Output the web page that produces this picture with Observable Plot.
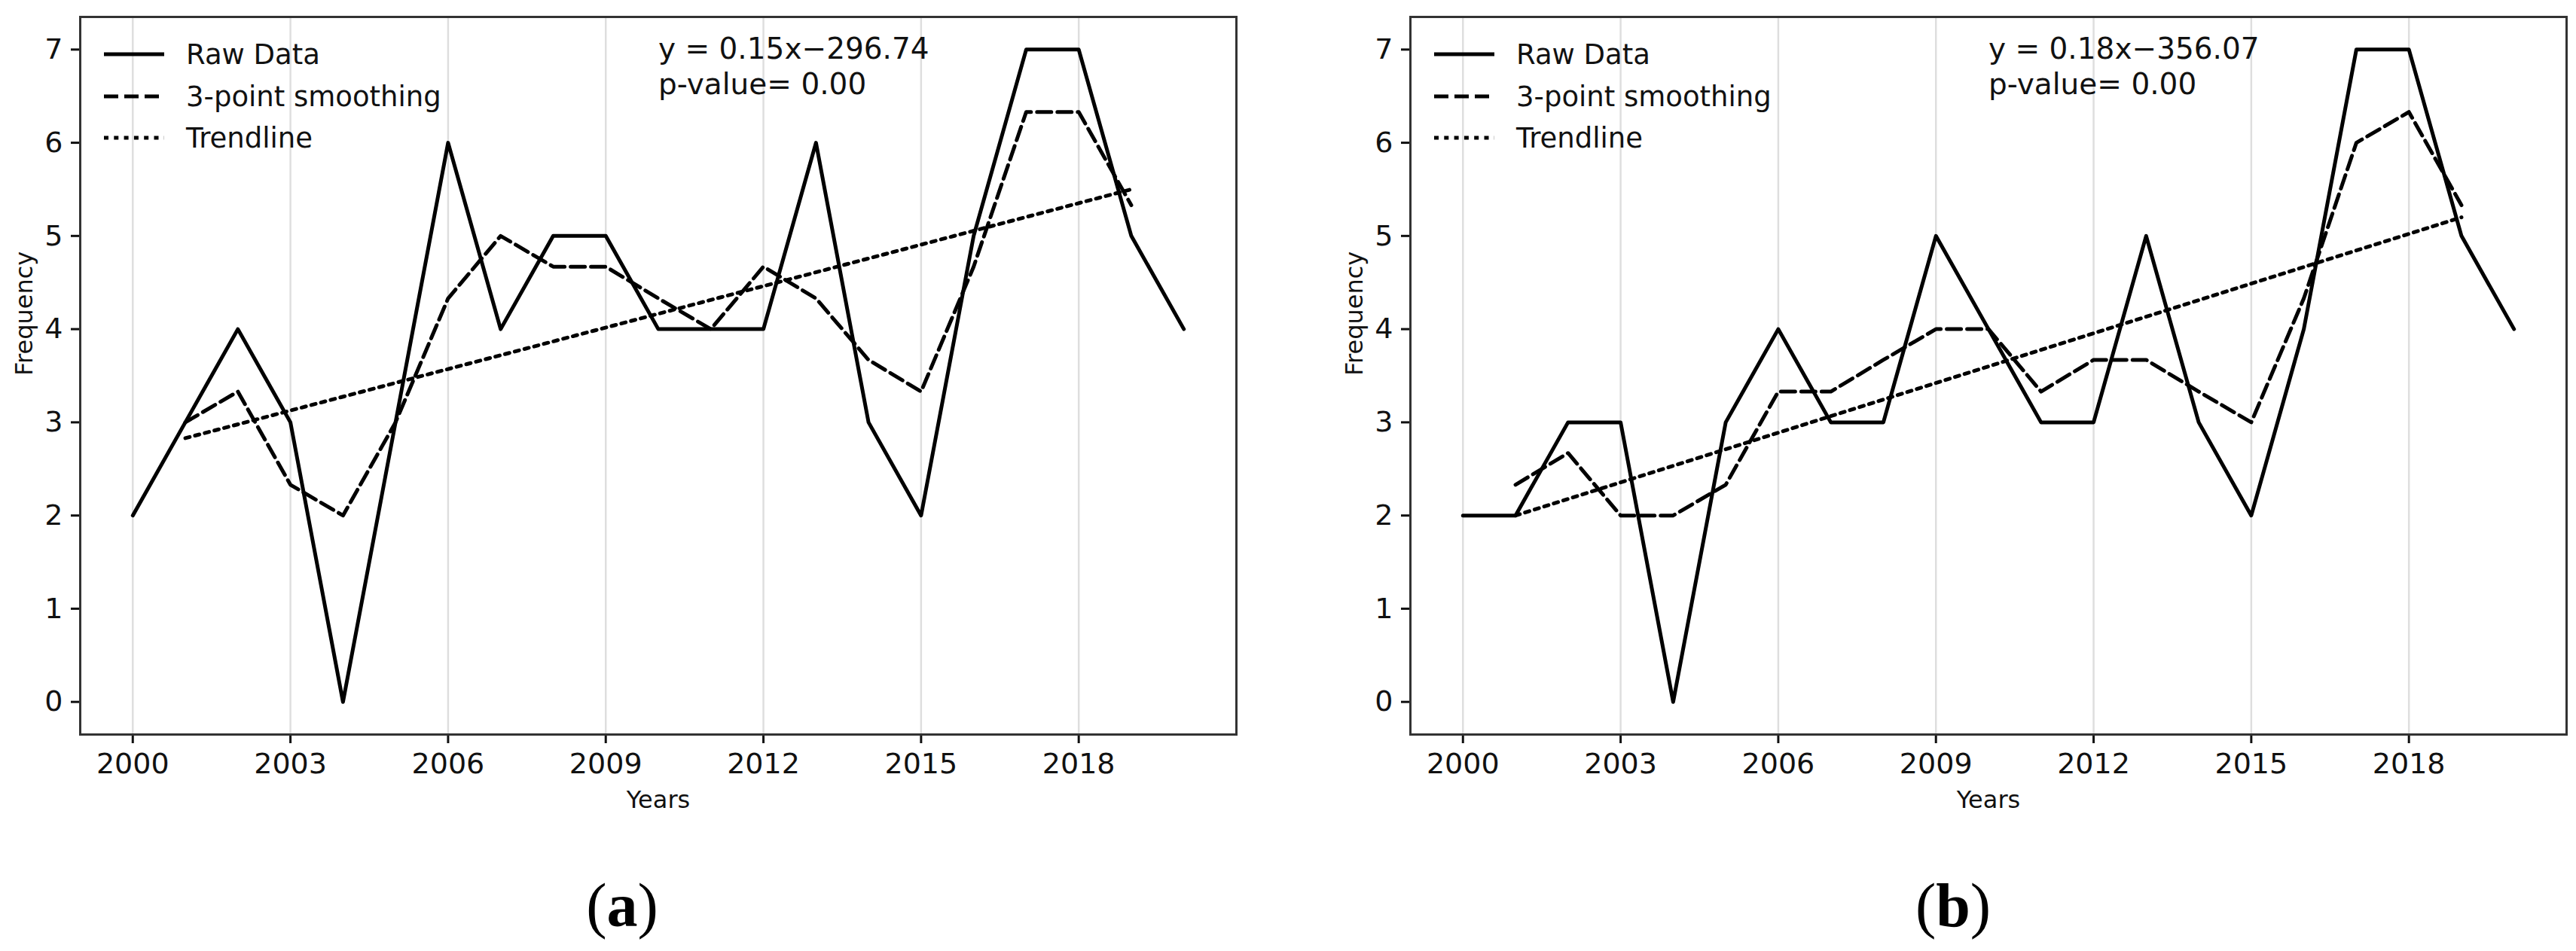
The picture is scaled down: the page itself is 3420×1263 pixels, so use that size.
<!DOCTYPE html>
<html>
<head>
<meta charset="utf-8">
<script src="https://cdn.jsdelivr.net/npm/d3@7"></script>
<script src="https://cdn.jsdelivr.net/npm/@observablehq/plot@0.6"></script>
<style>
  html, body { margin: 0; padding: 0; background: #fff; }
  #fig { position: relative; width: 3420px; height: 1263px; overflow: hidden; background: #fff; }
  .panel { position: absolute; top: 0; }
  .legend { position: absolute; font-family: "DejaVu Sans", sans-serif; font-size: 37px; color: #111; }
  .legend .row { position: absolute; left: 0; height: 56px; display: flex; align-items: center; white-space: nowrap; }
  .legend svg { display: block; margin-right: 29px; }
  .caption { position: absolute; font-family: "Liberation Serif", "Times New Roman", serif; font-size: 82px; color: #000; transform: translate(-50%, -50%); line-height: 1; }
</style>
</head>
<body>
<div id="fig"></div>
<script>
// ---------- data ----------
const years = [2000, 2001, 2002, 2003, 2004, 2005, 2006, 2007, 2008, 2009, 2010,
               2011, 2012, 2013, 2014, 2015, 2016, 2017, 2018, 2019, 2020];
const smoothYears = [2001, 2002, 2003, 2004, 2005, 2006, 2007, 2008, 2009, 2010,
                     2011, 2012, 2013, 2014, 2015, 2016, 2017, 2018, 2019];
const trendYears = [2001, 2019];

const rawA = [2, 3, 4, 3, 0, 3, 6, 4, 5, 5, 4, 4, 4, 6, 3, 2, 5, 7, 7, 5, 4];
const smoothA = [3, 3.33, 2.33, 2, 3, 4.33, 5, 4.67, 4.67, 4.33, 4, 4.67, 4.33, 3.67, 3.33, 4.67, 6.33, 6.33, 5.33];
const trendA = [2.83, 5.5];

const rawB = [2, 2, 3, 3, 0, 3, 4, 3, 3, 5, 4, 3, 3, 5, 3, 2, 4, 7, 7, 5, 4];
const smoothB = [2.33, 2.67, 2, 2, 2.33, 3.33, 3.33, 3.67, 4, 4, 3.33, 3.67, 3.67, 3.33, 3, 4.33, 6, 6.33, 5.33];
const trendB = [2.0, 5.2];

const xTicks = [2000, 2003, 2006, 2009, 2012, 2015, 2018];
const yTicks = [0, 1, 2, 3, 4, 5, 6, 7];

const equationA = "y = 0.15x\u2212296.74\np-value= 0.00";
const equationB = "y = 0.18x\u2212356.07\np-value= 0.00";

const legendLabels = ["Raw Data", "3-point smoothing", "Trendline"];
const captions = ["a", "b"];
const xLabel = "Years";
const yLabel = "Frequency";

// ---------- styles ----------
const LW = 5;
const DASH = "19,8";
const DOT = "6,7.3";

function toRows(xs, ys) { return xs.map((x, i) => ({x, y: ys[i]})); }

function panel(raw, smooth, trend, eq, width, marginRight) {
  return Plot.plot({
    width, height: 1100,
    marginLeft: 106, marginRight, marginTop: 22, marginBottom: 125,
    x: {domain: [1999, 2021]},
    y: {domain: [-0.35, 7.35]},
    style: {fontFamily: "DejaVu Sans", fontSize: "38px", color: "#111", background: "white", overflow: "visible"},
    marks: [
      Plot.gridX({ticks: xTicks, stroke: "#000", strokeOpacity: 0.13, strokeWidth: 2.5}),
      Plot.axisX({ticks: xTicks, tickSize: 12, tickPadding: 13, tickFormat: d => String(d), label: null, strokeWidth: 3, fontSize: 38}),
      Plot.axisY({ticks: yTicks, tickSize: 12, tickPadding: 11, tickFormat: d => String(d), label: null, strokeWidth: 3, fontSize: 38}),
      Plot.line(toRows(years, raw), {x: "x", y: "y", stroke: "#000", strokeWidth: LW}),
      Plot.line(toRows(smoothYears, smooth), {x: "x", y: "y", stroke: "#000", strokeWidth: LW, strokeDasharray: DASH}),
      Plot.line(toRows(trendYears, trend), {x: "x", y: "y", stroke: "#000", strokeWidth: LW, strokeDasharray: DOT}),
      Plot.text([eq], {text: d => d, frameAnchor: "top", textAnchor: "start", lineAnchor: "top", dy: 22, fontSize: 39, lineHeight: 1.2, fill: "#111"}),
      Plot.text([xLabel], {text: d => d, frameAnchor: "bottom", dy: 97, fontSize: 32, fill: "#111"}),
      Plot.text([yLabel], {text: d => d, frameAnchor: "left", dx: -74, rotate: -90, fontSize: 32, fill: "#111"}),
      Plot.frame({stroke: "#333", strokeWidth: 3})
    ]
  });
}

function legend(left) {
  const div = document.createElement("div");
  div.className = "legend";
  div.style.left = left + "px";
  div.style.top = "0px";
  const dashes = [null, DASH, DOT];
  const centers = [72, 128, 183];
  legendLabels.forEach((lab, i) => {
    const row = document.createElement("div");
    row.className = "row";
    row.style.top = (centers[i] - 28) + "px";
    const ns = "http://www.w3.org/2000/svg";
    const s = document.createElementNS(ns, "svg");
    s.setAttribute("width", 80); s.setAttribute("height", 20);
    const l = document.createElementNS(ns, "line");
    l.setAttribute("x1", 0); l.setAttribute("x2", 80);
    l.setAttribute("y1", 10); l.setAttribute("y2", 10);
    l.setAttribute("stroke", "#000"); l.setAttribute("stroke-width", LW);
    if (dashes[i]) l.setAttribute("stroke-dasharray", dashes[i]);
    s.appendChild(l);
    row.appendChild(s);
    const t = document.createElement("span");
    t.textContent = lab;
    row.appendChild(t);
    div.appendChild(row);
  });
  return div;
}

const fig = document.getElementById("fig");

const pa = document.createElement("div");
pa.className = "panel"; pa.style.left = "0px";
pa.appendChild(panel(rawA, smoothA, trendA, equationA, 1766, 125));
pa.appendChild(legend(138));
fig.appendChild(pa);

const pb = document.createElement("div");
pb.className = "panel"; pb.style.left = "1766px";
pb.appendChild(panel(rawB, smoothB, trendB, equationB, 1654, 13));
pb.appendChild(legend(138));
fig.appendChild(pb);

[[826, captions[0]], [2593, captions[1]]].forEach(([cx, c]) => {
  const d = document.createElement("div");
  d.className = "caption";
  d.style.left = cx + "px";
  d.style.top = "1203px";
  d.innerHTML = "(<b>" + c + "</b>)";
  fig.appendChild(d);
});
</script>
</body>
</html>
